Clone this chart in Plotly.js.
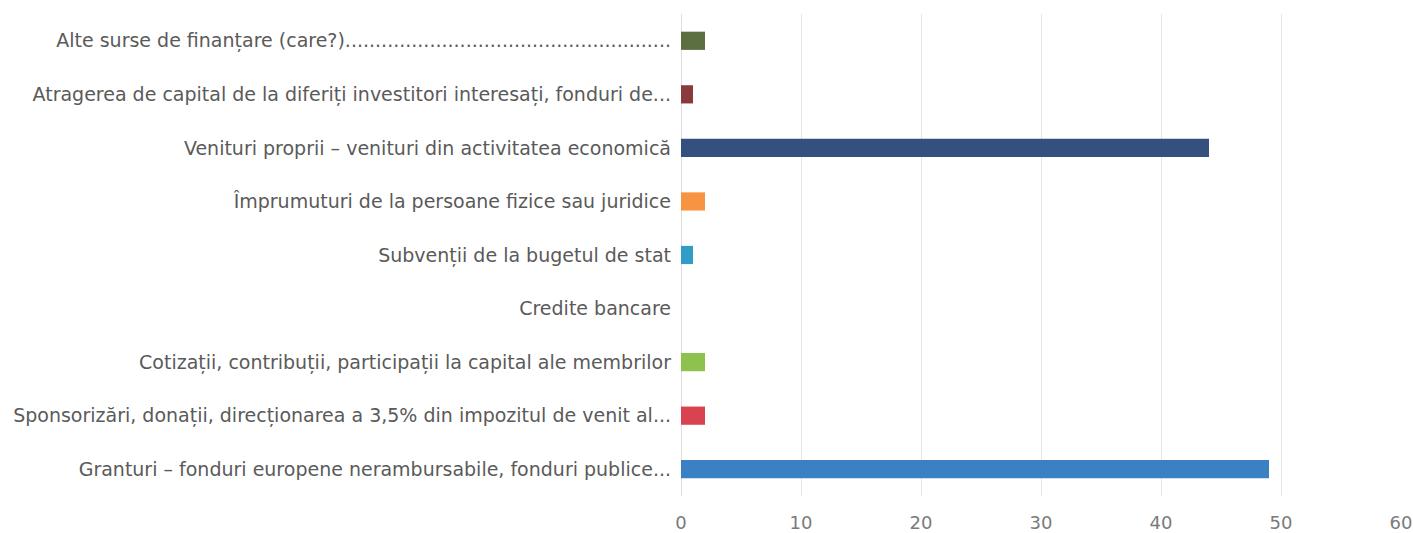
<!DOCTYPE html>
<html>
<head>
<meta charset="utf-8">
<script src="https://cdn.plot.ly/plotly-3.0.1.min.js"></script>
<style>html,body{margin:0;padding:0;background:#fff;}#chart{width:1413px;height:533px;}</style>
</head>
<body>
<div id="chart"></div>
<script>
const categories = [
  "Granturi – fonduri europene nerambursabile, fonduri publice...",
  "Sponsorizări, donații, direcționarea a 3,5% din impozitul de venit al...",
  "Cotizații, contribuții, participații la capital ale membrilor",
  "Credite bancare",
  "Subvenții de la bugetul de stat",
  "Împrumuturi de la persoane fizice sau juridice",
  "Venituri proprii – venituri din activitatea economică",
  "Atragerea de capital de la diferiți investitori interesați, fonduri de...",
  "Alte surse de finanțare (care?)......................................................"
];
const values = [49, 2, 2, 0, 1, 2, 44, 1, 2];
const barColors = ["#3a80c3", "#d8434f", "#8dc24f", "#7d5fa0", "#2f9dc5", "#f79443", "#33507e", "#8b3a3b", "#5c6f40"];
const xTicks = [0, 10, 20, 30, 40, 50, 60];

const trace = {
  type: "bar",
  orientation: "h",
  y: categories,
  x: values,
  marker: {color: barColors},
  hoverinfo: "x+y"
};

const layout = {
  width: 1413,
  height: 533,
  margin: {l: 681, r: 12, t: 14, b: 37},
  paper_bgcolor: "#ffffff",
  plot_bgcolor: "#ffffff",
  bargap: 0.66,
  showlegend: false,
  font: {family: "'DejaVu Sans', sans-serif", size: 19, color: "#595959"},
  xaxis: {
    range: [0, 60],
    tickvals: xTicks,
    ticktext: xTicks.map(String),
    showgrid: true,
    gridcolor: "#e6e6e6",
    gridwidth: 1,
    zeroline: true,
    zerolinecolor: "#e0e0e0",
    zerolinewidth: 1,
    showline: false,
    ticks: "",
    ticklabelstandoff: 14,
    ticklabeloverflow: "allow",
    tickfont: {family: "'DejaVu Sans', sans-serif", size: 18, color: "#7a7a7a"},
    fixedrange: true
  },
  yaxis: {
    type: "category",
    categoryorder: "array",
    categoryarray: categories,
    automargin: false,
    showgrid: false,
    zeroline: false,
    showline: false,
    ticks: "",
    ticklabelstandoff: 9,
    tickfont: {family: "'DejaVu Sans', sans-serif", size: 19, color: "#5a5a5a"},
    fixedrange: true
  }
};

Plotly.newPlot("chart", [trace], layout, {displayModeBar: false, staticPlot: true});
</script>
</body>
</html>
